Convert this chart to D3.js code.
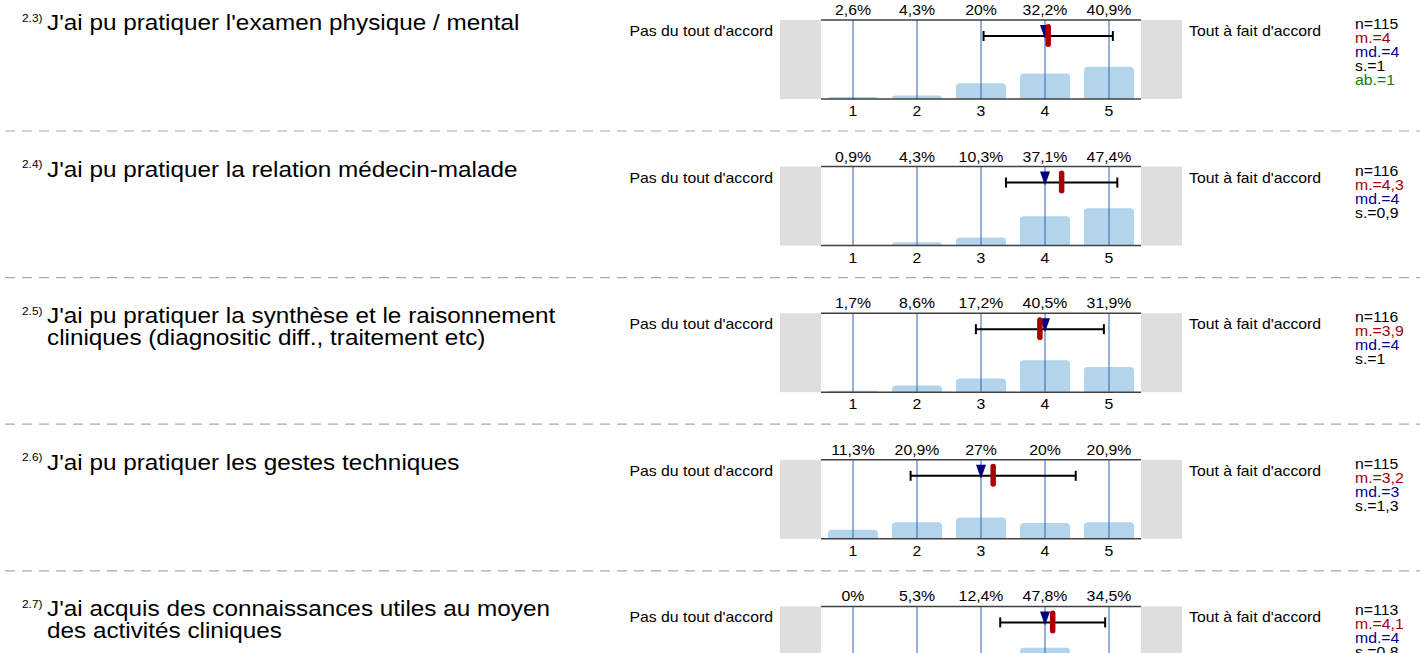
<!DOCTYPE html>
<html>
<head>
<meta charset="utf-8">
<script src="https://cdn.jsdelivr.net/npm/d3@7"></script>
<style>
  body { margin: 0; background: #fff; }
  svg { font-family: "Liberation Sans", Arial, sans-serif; display: block; }
</style>
</head>
<body>
<svg id="canvas" width="1420" height="653"></svg>
<script>
// question data
const numbers = ['2.3)', '2.4)', '2.5)', '2.6)', '2.7)']
const titles = [
  ["J'ai pu pratiquer l'examen physique / mental"],
  ["J'ai pu pratiquer la relation médecin-malade"],
  ["J'ai pu pratiquer la synthèse et le raisonnement", "cliniques (diagnositic diff., traitement etc)"],
  ["J'ai pu pratiquer les gestes techniques"],
  ["J'ai acquis des connaissances utiles au moyen", "des activités cliniques"]
]
const percents = [
  [2.6, 4.3, 20, 32.2, 40.9],
  [0.9, 4.3, 10.3, 37.1, 47.4],
  [1.7, 8.6, 17.2, 40.5, 31.9],
  [11.3, 20.9, 27, 20, 20.9],
  [0, 5.3, 12.4, 47.8, 34.5]
]
const means = [4.05, 4.26, 3.92, 3.19, 4.12]
const sds = [1.01, 0.87, 1.0, 1.29, 0.82]
const medians = [4, 4, 4, 3, 4]
const stats = [
  ['n=115', 'm.=4', 'md.=4', 's.=1', 'ab.=1'],
  ['n=116', 'm.=4,3', 'md.=4', 's.=0,9'],
  ['n=116', 'm.=3,9', 'md.=4', 's.=1'],
  ['n=115', 'm.=3,2', 'md.=3', 's.=1,3'],
  ['n=113', 'm.=4,1', 'md.=4', 's.=0,8']
]
const scaleTicks = [1, 2, 3, 4, 5]
const leftLabel = "Pas du tout d'accord"
const rightLabel = "Tout à fait d'accord"
const statColors = ['#000', '#a00000', '#000090', '#000', '#108010']

let canvas = d3.select('#canvas')

const rowStep = 146.6
const panelH = 79
let x = d3.scaleLinear().domain([0.5, 5.5]).range([821, 1141])
let y = d3.scaleLinear().domain([0, 100]).range([panelH, 0])
const barW = 50
const stretch = 1.13 // the reference text runs wider than Liberation Sans

let fmt = (v) => String(v).replace('.', ',') + '%'

// text placed with a horizontal stretch around its anchor point
let label = (g, tx, ty, txt, size, anchor, color) => {
  return g.append('text')
    .attr('transform', `translate(${tx},${ty}) scale(${stretch},1)`)
    .attr('font-size', size)
    .attr('text-anchor', anchor || 'start')
    .attr('fill', color || '#000')
    .text(txt)
}

let drawRow = (i) => {
  let g = canvas.append('g').attr('transform', `translate(0,${20 + i * rowStep})`)

  // title
  label(g, 22, 1.5, numbers[i], 10.5)
  titles[i].forEach((t, k) => label(g, 47, 10 + k * 22, t, 21.5))

  // grey end boxes
  g.append('rect').attr('x', 780).attr('y', 0).attr('width', 41).attr('height', panelH).attr('fill', '#dedede')
  g.append('rect').attr('x', 1141).attr('y', 0).attr('width', 41).attr('height', panelH).attr('fill', '#dedede')

  label(g, 773, 16, leftLabel, 14, 'end')
  label(g, 1189, 16, rightLabel, 14)

  // bars
  g.selectAll('path.bar')
    .data(percents[i])
    .enter()
    .append('path')
    .attr('class', 'bar')
    .attr('fill', '#b4d4ec')
    .attr('d', (d, k) => {
      let x0 = x(k + 1) - barW / 2, x1 = x(k + 1) + barW / 2
      let top = y(d), bot = y(0)
      let r = Math.min(4, (bot - top))
      return `M${x0},${bot}V${top + r}Q${x0},${top} ${x0 + r},${top}H${x1 - r}Q${x1},${top} ${x1},${top + r}V${bot}Z`
    })

  // grid lines
  g.selectAll('line.grid')
    .data(scaleTicks)
    .enter()
    .append('line')
    .attr('x1', d => x(d)).attr('x2', d => x(d))
    .attr('y1', 0).attr('y2', panelH)
    .attr('stroke', '#2a66a8').attr('stroke-width', 1)

  // frame lines
  g.append('line').attr('x1', 821).attr('x2', 1141).attr('y1', 0).attr('y2', 0).attr('stroke', '#404040').attr('stroke-width', 1.5)
  g.append('line').attr('x1', 821).attr('x2', 1141).attr('y1', panelH).attr('y2', panelH).attr('stroke', '#404040').attr('stroke-width', 1.5)

  // percent labels
  percents[i].forEach((d, k) => label(g, x(k + 1), -5, fmt(d), 14, 'middle'))

  // tick labels
  scaleTicks.forEach(d => label(g, x(d), panelH + 17, d, 14, 'middle'))

  // std dev bar
  let ey = 16
  let lo = x(means[i] - sds[i]), hi = x(means[i] + sds[i])
  g.append('line').attr('x1', lo).attr('x2', hi).attr('y1', ey).attr('y2', ey).attr('stroke', '#000').attr('stroke-width', 2)
  g.append('line').attr('x1', lo).attr('x2', lo).attr('y1', ey - 5).attr('y2', ey + 5).attr('stroke', '#000').attr('stroke-width', 2)
  g.append('line').attr('x1', hi).attr('x2', hi).attr('y1', ey - 5).attr('y2', ey + 5).attr('stroke', '#000').attr('stroke-width', 2)

  // median triangle
  let mx = x(medians[i])
  g.append('path').attr('d', `M${mx - 5},5L${mx + 5},5L${mx},19Z`).attr('fill', '#000080')

  // mean marker
  g.append('rect').attr('x', x(means[i]) - 2.75).attr('y', 4).attr('width', 5.5).attr('height', 23)
    .attr('rx', 2.75).attr('fill', '#aa0000')

  // stats
  stats[i].forEach((s, k) => label(g, 1355, 9 + k * 14, s, 14, 'start', statColors[k]))

  // separator
  if (i < numbers.length - 1) {
    g.append('line').attr('x1', 5).attr('x2', 1420).attr('y1', 111).attr('y2', 111)
      .attr('stroke', '#aaa').attr('stroke-width', 1.2).attr('stroke-dasharray', '10,7')
  }
}

numbers.forEach((d, i) => drawRow(i))
</script>
</body>
</html>
